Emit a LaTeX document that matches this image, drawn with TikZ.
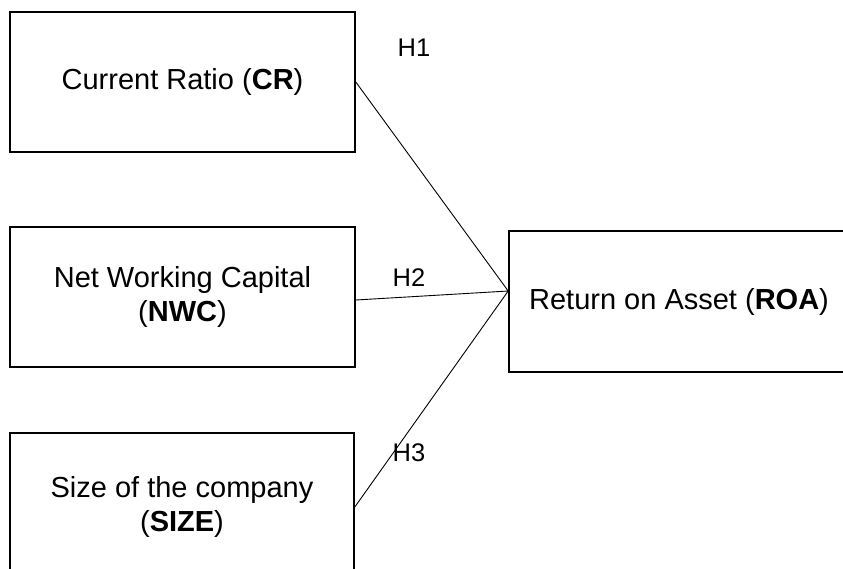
\documentclass[tikz,border=0pt]{standalone}
\usepackage{fontspec}
\setmainfont{Liberation Sans}
\usetikzlibrary{calc}
\begin{document}
\begin{tikzpicture}[x=1pt,y=-1pt,
  box/.style={draw=black, line width=1.6pt, inner sep=0pt, align=center,
    font=\fontsize{29}{34}\selectfont},
  hlabel/.style={inner sep=0pt, font=\fontsize{25.5}{30}\selectfont},
  link/.style={draw=black, line width=0.9pt}]
\useasboundingbox (0,0) rectangle (843,568);
\clip (0,0) rectangle (843,568);
\fill[white] (0,0) rectangle (843,568);
\node[box, minimum width=345pt, minimum height=140pt] (cr) at (182.5,82) {Current Ratio (\textbf{CR})};
\node[box, minimum width=345pt, minimum height=140pt] (nwc) at (182.5,297) {Net Working Capital\\(\textbf{NWC})};
\node[box, minimum width=344pt, minimum height=148pt] (size) at (182,507) {Size of the company\\(\textbf{SIZE})};
\node[box, minimum width=340pt, minimum height=141pt] (roa) at (679,301.5) {Return on Asset (\textbf{ROA})};
\coordinate (m) at ($(roa.west)+(0,-10.5)$);
\coordinate (nwcout) at ($(nwc.east)+(0,3)$);
\draw[link] (cr.east) -- (m);
\draw[link] (nwcout) -- (m);
\draw[link] (size.east) -- (m);
\node[hlabel] (h1) at (414,48) {H1};
\node[hlabel] (h2) at (409,278) {H2};
\node[hlabel] (h3) at (409,453) {H3};
\end{tikzpicture}
\end{document}
